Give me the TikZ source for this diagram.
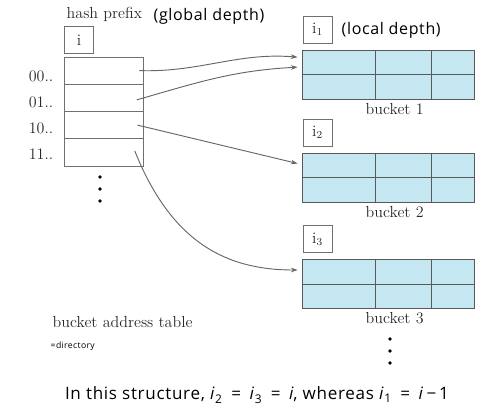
\documentclass[tikz,border=0pt]{standalone}
\usepackage{fontspec}
\newfontfamily\uisans[LetterSpace=4]{Open Sans}
\usetikzlibrary{arrows.meta}
\definecolor{bucketfill}{RGB}{196,231,241}
\definecolor{linegray}{RGB}{112,112,112}
\definecolor{textgray}{RGB}{40,40,40}

\begin{document}
\begin{tikzpicture}[x=0.75pt,y=-0.75pt,
    serif/.style={text=textgray,font=\fontsize{12}{14}\selectfont},
    sans/.style={text=black,font=\uisans\fontsize{12}{14}\selectfont},
    dircell/.style={draw=linegray,line width=0.7pt,minimum width=59.25pt,minimum height=20.44pt,inner sep=0pt},
    depthbox/.style={draw=linegray,line width=0.7pt,minimum width=21.75pt,minimum height=20.25pt,inner sep=0pt,serif},
    bucketbox/.style={draw=black!65,fill=bucketfill,line width=0.7pt,minimum width=129pt,minimum height=36.75pt,inner sep=0pt},
    pointer/.style={draw=black!60,line width=0.7pt,-{Stealth[length=5pt,width=3.5pt]}}]
    \useasboundingbox (0,0) rectangle (496,418);

    % Directory (bucket address table)
    \node[serif,anchor=west] (hp) at (62,14) {hash prefix};
    \node[sans,anchor=west] (gd) at (149,16) {(global depth)};
    \node[depthbox,anchor=north west] (gi) at (64,26) {i};
    \foreach \k/\lab in {0/00..,1/01..,2/10..,3/11..} {
      \node[dircell] (d\k) at (103.5,70.6+27.25*\k) {};
      \node[serif,anchor=east] (l\k) at (58,76+26*\k) {\lab};
    }
    \foreach \y in {177,189,201}
      \fill (100,\y) circle (1.9);

    % Buckets
    \foreach \k/\y in {1/74.5,2/177.5,3/284} {
      \node[bucketbox] (b\k) at (388,\y) {};
      \draw[black!65,line width=0.7pt] (b\k.west) -- (b\k.east)
        ([xshift=55.5pt]b\k.north west) -- ([xshift=55.5pt]b\k.south west)
        ([xshift=97.5pt]b\k.north west) -- ([xshift=97.5pt]b\k.south west);
      \node[depthbox,anchor=south west] (i\k) at ([xshift=0.75pt,yshift=4.5pt]b\k.north west) {$\mathrm{i}_{\k}$};
      \node[serif] (bl\k) at ([xshift=5pt,yshift=-7pt]b\k.south) {bucket \k};
    }
    \node[sans,anchor=west] (ld) at (337,30) {(local depth)};
    \foreach \y in {339,351,363}
      \fill (390,\y) circle (1.9);

    % Pointers
    \coordinate (s0) at ([xshift=-3pt]d0.east);
    \coordinate (s1) at ([xshift=-5pt,yshift=-1.5pt]d1.east);
    \coordinate (s2) at ([xshift=-4.5pt]d2.east);
    \coordinate (s3) at ([xshift=-6.5pt,yshift=1pt]d3.east);
    \coordinate (e1a) at ([xshift=-3pt,yshift=13pt]b1.west);
    \coordinate (e1b) at ([xshift=-3pt,yshift=5.5pt]b1.west);
    \coordinate (e2) at ([xshift=-3pt,yshift=10.5pt]b2.west);
    \coordinate (e3) at ([xshift=-3pt,yshift=10.5pt]b3.west);
    \draw[pointer] (s0) .. controls +(45pt,-1.5pt) and +(-45pt,3.75pt) .. (e1a);
    \draw[pointer] (s1) to[out=16,in=183] (e1b);
    \draw[pointer] (s2) -- (e2);
    \draw[pointer] (s3) .. controls +(28pt,-70pt) and +(-52pt,0pt) .. (e3);

    % Captions
    \node[serif,anchor=west] (bat) at (48,322) {bucket address table};
    \node[sans,anchor=west,font=\uisans\fontsize{6.5}{8}\selectfont] (dir) at (46,346) {=directory};
    \node[sans,font=\uisans\fontsize{12.8}{15}\selectfont] (note) at (257,395) {In this structure, \textit{i}\textsubscript{2}\enspace=\enspace\textit{i}\textsubscript{3}\enspace=\enspace\textit{i}, whereas \textit{i}\textsubscript{1}\enspace=\enspace\textit{i}\,−\,1};
  \end{tikzpicture}
\end{document}
